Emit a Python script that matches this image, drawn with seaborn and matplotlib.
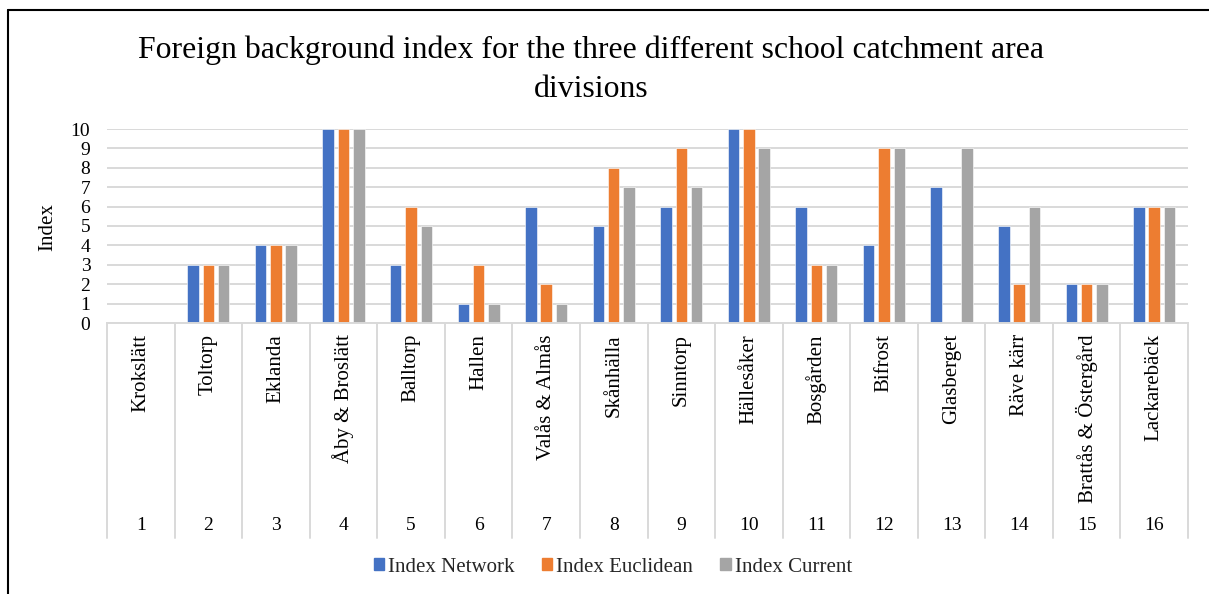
import matplotlib
matplotlib.use("Agg")
import matplotlib.pyplot as plt
import matplotlib.transforms as mtransforms
from matplotlib.lines import Line2D
import seaborn as sns
import pandas as pd

# ---- data ----
area_numbers = ["1", "2", "3", "4", "5", "6", "7", "8", "9", "10", "11", "12", "13", "14", "15", "16"]
area_names = ["Krokslätt", "Toltorp", "Eklanda", "Åby & Broslätt", "Balltorp", "Hallen",
              "Valås & Almås", "Skånhälla", "Sinntorp", "Hällesåker", "Bosgården", "Bifrost",
              "Glasberget", "Räve kärr", "Brattås & Östergård", "Lackarebäck"]
index_network = [0, 3, 4, 10, 3, 1, 6, 5, 6, 10, 6, 4, 7, 5, 2, 6]
index_euclidean = [0, 3, 4, 10, 6, 3, 2, 8, 9, 10, 3, 9, 0, 2, 2, 6]
index_current = [0, 3, 4, 10, 5, 1, 1, 7, 7, 9, 3, 9, 9, 6, 2, 6]
series_names = ["Index Network", "Index Euclidean", "Index Current"]
series_colors = ["#4472C4", "#ED7D31", "#A5A5A5"]
y_ticks = [0, 1, 2, 3, 4, 5, 6, 7, 8, 9, 10]
title_text = "Foreign background index for the three different school catchment area\ndivisions"

sns.set_style("white")
plt.rcParams["font.family"] = ["Liberation Serif", "DejaVu Serif"]

rows = []
for s_name, vals in zip(series_names, [index_network, index_euclidean, index_current]):
    for num, v in zip(area_numbers, vals):
        rows.append({"area": num, "series": s_name, "value": v})
df = pd.DataFrame(rows)

W, H = 1209, 594
fig = plt.figure(figsize=(W / 100, H / 100), dpi=100)
left, right, top, bottom = 107, 1188, 129, 323
ax = fig.add_axes([left / W, 1 - bottom / H, (right - left) / W, (bottom - top) / H])

sns.barplot(data=df, x="area", y="value", hue="series", order=area_numbers,
            hue_order=series_names, palette=series_colors, width=0.68, gap=0.25,
            ax=ax, legend=False, edgecolor="white", linewidth=0.4, saturation=1)

ax.set_ylim(0, 10)
ax.set_xlim(-0.5, len(area_numbers) - 0.5)
ax.set_yticks(y_ticks)
ax.set_yticklabels([str(t) for t in y_ticks], fontsize=14, color="black")
ax.tick_params(axis="y", length=0, pad=12)
ax.set_xticks([])
ax.set_xlabel("")
ax.set_ylabel("")
ax.yaxis.grid(True, color="#D9D9D9", linewidth=1.4)
ax.set_axisbelow(True)
for sp in ["top", "right", "left"]:
    ax.spines[sp].set_visible(False)
ax.spines["bottom"].set_color("#D9D9D9")
ax.spines["bottom"].set_linewidth(1.4)

# multi-level category axis
trans = mtransforms.blended_transform_factory(ax.transData, fig.transFigure)
y_top = 1 - 323 / H
y_bot = 1 - 538 / H
for i in range(len(area_numbers) + 1):
    ax.add_line(Line2D([i - 0.5, i - 0.5], [y_top, y_bot], transform=trans,
                       color="#D9D9D9", linewidth=1.4, clip_on=False))
for i, (num, name) in enumerate(zip(area_numbers, area_names)):
    ax.text(i, 1 - 334 / H, name, transform=trans, rotation=90, ha="center", va="top",
            fontsize=15, color="black")
    ax.text(i, 1 - 525 / H, num, transform=trans, ha="center", va="center",
            fontsize=14, color="black")

# y axis title
fig.text(48 / W, 1 - 227 / H, "Index", rotation=90, ha="center", va="center",
         fontsize=15, color="black")

# title
fig.text(591 / W, 1 - 70 / H, title_text, ha="center", va="center", fontsize=22.9,
         color="black", linespacing=1.45)

# legend
handles = [plt.Rectangle((0, 0), 1, 1, color=c) for c in series_colors]
fig.legend(handles, series_names, loc="center", bbox_to_anchor=(613 / W, 1 - 567 / H),
           ncol=3, frameon=False, fontsize=15, handlelength=0.5, handleheight=0.5,
           handletextpad=0.2, columnspacing=1.3, borderpad=0, borderaxespad=0)

# chart border (left and top)
fig.add_artist(Line2D([8 / W, 8 / W], [0, 1 - 10 / H], transform=fig.transFigure,
                      color="black", linewidth=1.5))
fig.add_artist(Line2D([8 / W, 1], [1 - 10 / H, 1 - 10 / H], transform=fig.transFigure,
                      color="black", linewidth=1.5))

fig.savefig("out.png", dpi=100)
